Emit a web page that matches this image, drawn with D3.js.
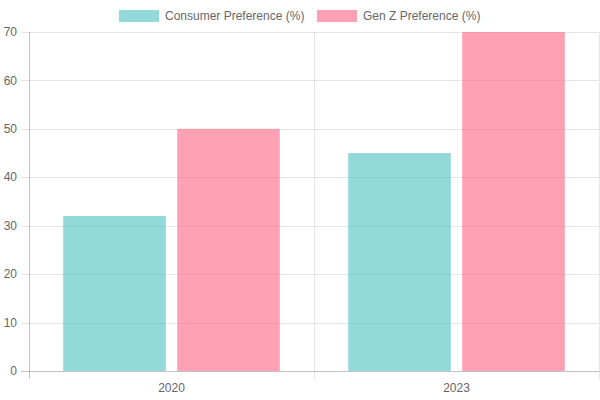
<!DOCTYPE html>
<html lang="en">
<head>
<meta charset="UTF-8">
<title>Preference chart</title>
<script src="https://cdn.jsdelivr.net/npm/d3@7"></script>
<style>
  body { margin: 0; background: #fff; }
  text { font-family: "Liberation Sans", Arial, sans-serif; }
</style>
</head>
<body>
<script>
const years = ['2020', '2023'];
const seriesNames = ['Consumer Preference (%)', 'Gen Z Preference (%)'];
const consumerValues = [32, 45];
const genZValues = [50, 70];
const yTicks = [0, 10, 20, 30, 40, 50, 60, 70];

const fills = ['rgba(75,192,192,0.6)', 'rgba(255,99,132,0.6)'];
const seriesValues = [consumerValues, genZValues];

const w = 600, h = 400;
const plotLeft = 29, plotRight = 599, plotTop = 32, plotBottom = 371;

const svg = d3.select('body').append('svg')
  .attr('width', w).attr('height', h);

const x = d3.scaleBand().domain(years).range([plotLeft, plotRight]).paddingInner(0).paddingOuter(0);
// bars take 80% of the category, each bar 90% of its slot
const x1 = d3.scaleBand().domain([0, 1]).range([0, x.bandwidth() * 0.8]).paddingInner(0);
const y = d3.scaleLinear().domain([0, 70]).range([plotBottom, plotTop]);

// horizontal grid
svg.append('g').selectAll('line').data(yTicks).enter().append('line')
  .attr('x1', plotLeft - 8).attr('x2', plotRight)
  .attr('y1', d => Math.round(y(d)) + 0.5).attr('y2', d => Math.round(y(d)) + 0.5)
  .attr('stroke', 'rgba(0,0,0,0.1)');

// vertical grid at category edges
const edges = [plotLeft, plotLeft + x.bandwidth(), plotRight];
svg.append('g').selectAll('line').data(edges).enter().append('line')
  .attr('x1', d => Math.round(d) + 0.5).attr('x2', d => Math.round(d) + 0.5)
  .attr('y1', plotTop).attr('y2', plotBottom + 8)
  .attr('stroke', 'rgba(0,0,0,0.1)');

// axis lines
svg.append('line').attr('x1', plotLeft + 0.5).attr('x2', plotLeft + 0.5)
  .attr('y1', plotTop).attr('y2', plotBottom + 8).attr('stroke', 'rgba(0,0,0,0.15)');
svg.append('line').attr('x1', plotLeft - 8).attr('x2', plotRight)
  .attr('y1', plotBottom + 0.5).attr('y2', plotBottom + 0.5).attr('stroke', 'rgba(0,0,0,0.15)');

// y labels
svg.append('g').selectAll('text').data(yTicks).enter().append('text')
  .attr('x', 17).attr('y', d => y(d)).attr('dy', '0.35em')
  .attr('text-anchor', 'end').attr('font-size', 12).attr('fill', '#666')
  .text(d => d);

// x labels
svg.append('g').selectAll('text').data(years).enter().append('text')
  .attr('x', d => x(d) + x.bandwidth() / 2).attr('y', 392)
  .attr('text-anchor', 'middle').attr('font-size', 12).attr('fill', '#666')
  .text(d => d);

// bars
seriesValues.forEach((vals, s) => {
  svg.append('g').selectAll('rect').data(years).enter().append('rect')
    .attr('x', (d) => x(d) + x.bandwidth() * 0.1 + x1(s) + x1.bandwidth() * 0.05)
    .attr('width', x1.bandwidth() * 0.9)
    .attr('y', (d, i) => y(vals[i]))
    .attr('height', (d, i) => y(0) - y(vals[i]))
    .attr('fill', fills[s]);
});

// legend
const legendX = [119, 317];
const legend = svg.append('g').selectAll('g').data(seriesNames).enter().append('g')
  .attr('transform', (d, i) => `translate(${legendX[i]},10)`);
legend.append('rect').attr('width', 40).attr('height', 12)
  .attr('fill', (d, i) => fills[i]);
legend.append('text').attr('x', 46).attr('y', 6).attr('dy', '0.35em')
  .attr('font-size', 12).attr('fill', '#666').text(d => d);
</script>
</body>
</html>
